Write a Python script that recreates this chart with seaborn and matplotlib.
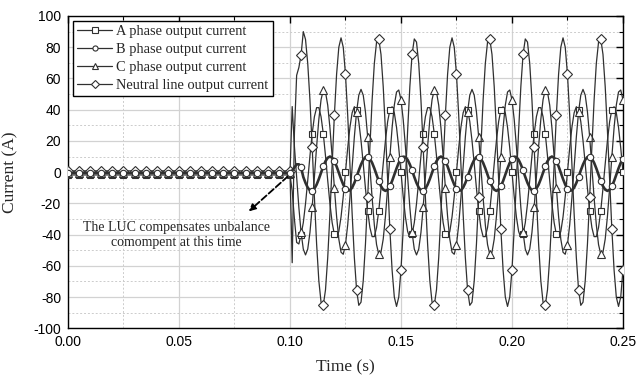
import numpy as np
import pandas as pd
import matplotlib
matplotlib.use("Agg")
import matplotlib.pyplot as plt
import seaborn as sns
from matplotlib.ticker import MultipleLocator, FormatStrFormatter

# === Data ===
# sample step is 1 ms, from 0.000 s to 0.250 s (251 samples)
time = np.round(np.arange(251) * 0.001, 3)

# level of each current before the LUC switches on (t <= 0.100 s)
a_pre = -1.8
b_pre = -0.5
c_pre = -0.5
n_pre = 0.8

# currents (A) from t = 0.101 s to t = 0.250 s
a_post = [
    -12, -30, -45, -46, -40, -32.4, -20.2, -5.3, 10.4, 24.7,
    35.5, 41.3, 41.3, 35.5, 24.7, 10.4, -5.3, -20.2, -32.4, -39.9,
    -41.9, -38.0, -28.7, -15.5, 0.0, 15.5, 28.7, 38.0, 41.9, 39.9,
    32.4, 20.2, 5.3, -10.4, -24.7, -35.5, -41.3, -41.3, -35.5, -24.7,
    -10.4, 5.3, 20.2, 32.4, 39.9, 41.9, 38.0, 28.7, 15.5, 0.0,
    -15.5, -28.7, -38.0, -41.9, -39.9, -32.4, -20.2, -5.3, 10.4, 24.7,
    35.5, 41.3, 41.3, 35.5, 24.7, 10.4, -5.3, -20.2, -32.4, -39.9,
    -41.9, -38.0, -28.7, -15.5, 0.0, 15.5, 28.7, 38.0, 41.9, 39.9,
    32.4, 20.2, 5.3, -10.4, -24.7, -35.5, -41.3, -41.3, -35.5, -24.7,
    -10.4, 5.3, 20.2, 32.4, 39.9, 41.9, 38.0, 28.7, 15.5, 0.0,
    -15.5, -28.7, -38.0, -41.9, -39.9, -32.4, -20.2, -5.3, 10.4, 24.7,
    35.5, 41.3, 41.3, 35.5, 24.7, 10.4, -5.3, -20.2, -32.4, -39.9,
    -41.9, -38.0, -28.7, -15.5, 0.0, 15.5, 28.7, 38.0, 41.9, 39.9,
    32.4, 20.2, 5.3, -10.4, -24.7, -35.5, -41.3, -41.3, -35.5, -24.7,
    -10.4, 5.3, 20.2, 32.4, 39.9, 41.9, 38.0, 28.7, 15.5, 0.0,
]
b_post = [
    1.0, 3.0, 5.0, 5.0, 3.0, -3.1, -6.9, -9.9, -11.7, -11.9,
    -10.6, -8.0, -4.4, -0.3, 3.7, 7.0, 9.2, 10.0, 9.2, 7.0,
    3.7, -0.3, -4.4, -8.0, -10.6, -11.9, -11.7, -9.9, -6.9, -3.1,
    1.1, 4.9, 7.9, 9.7, 9.9, 8.6, 6.0, 2.4, -1.7, -5.7,
    -9.0, -11.2, -12.0, -11.2, -9.0, -5.7, -1.7, 2.4, 6.0, 8.6,
    9.9, 9.7, 7.9, 4.9, 1.1, -3.1, -6.9, -9.9, -11.7, -11.9,
    -10.6, -8.0, -4.4, -0.3, 3.7, 7.0, 9.2, 10.0, 9.2, 7.0,
    3.7, -0.3, -4.4, -8.0, -10.6, -11.9, -11.7, -9.9, -6.9, -3.1,
    1.1, 4.9, 7.9, 9.7, 9.9, 8.6, 6.0, 2.4, -1.7, -5.7,
    -9.0, -11.2, -12.0, -11.2, -9.0, -5.7, -1.7, 2.4, 6.0, 8.6,
    9.9, 9.7, 7.9, 4.9, 1.1, -3.1, -6.9, -9.9, -11.7, -11.9,
    -10.6, -8.0, -4.4, -0.3, 3.7, 7.0, 9.2, 10.0, 9.2, 7.0,
    3.7, -0.3, -4.4, -8.0, -10.6, -11.9, -11.7, -9.9, -6.9, -3.1,
    1.1, 4.9, 7.9, 9.7, 9.9, 8.6, 6.0, 2.4, -1.7, -5.7,
    -9.0, -11.2, -12.0, -11.2, -9.0, -5.7, -1.7, 2.4, 6.0, 8.6,
]
c_post = [
    42, 16.4, -3.3, -22.6, -38.6, -49.3, -53.0, -49.3, -38.6, -22.6,
    -3.3, 16.4, 33.8, 46.4, 52.6, 51.3, 42.9, 28.4, 9.9, -9.9,
    -28.4, -42.9, -51.3, -52.6, -46.4, -33.8, -16.4, 3.3, 22.6, 38.6,
    49.3, 53.0, 49.3, 38.6, 22.6, 3.3, -16.4, -33.8, -46.4, -52.6,
    -51.3, -42.9, -28.4, -9.9, 9.9, 28.4, 42.9, 51.3, 52.6, 46.4,
    33.8, 16.4, -3.3, -22.6, -38.6, -49.3, -53.0, -49.3, -38.6, -22.6,
    -3.3, 16.4, 33.8, 46.4, 52.6, 51.3, 42.9, 28.4, 9.9, -9.9,
    -28.4, -42.9, -51.3, -52.6, -46.4, -33.8, -16.4, 3.3, 22.6, 38.6,
    49.3, 53.0, 49.3, 38.6, 22.6, 3.3, -16.4, -33.8, -46.4, -52.6,
    -51.3, -42.9, -28.4, -9.9, 9.9, 28.4, 42.9, 51.3, 52.6, 46.4,
    33.8, 16.4, -3.3, -22.6, -38.6, -49.3, -53.0, -49.3, -38.6, -22.6,
    -3.3, 16.4, 33.8, 46.4, 52.6, 51.3, 42.9, 28.4, 9.9, -9.9,
    -28.4, -42.9, -51.3, -52.6, -46.4, -33.8, -16.4, 3.3, 22.6, 38.6,
    49.3, 53.0, 49.3, 38.6, 22.6, 3.3, -16.4, -33.8, -46.4, -52.6,
    -51.3, -42.9, -28.4, -9.9, 9.9, 28.4, 42.9, 51.3, 52.6, 46.4,
]
n_post = [
    -58, 25, 62, 67, 75, 90, 85, 69.6, 46.1, 16.1,
    -16.1, -46.1, -69.6, -83.3, -85.3, -75.4, -54.8, -26.6, 5.4, 36.6,
    62.7, 80.0, 86.0, 80.0, 62.7, 36.6, 5.4, -26.6, -54.8, -75.4,
    -85.3, -83.3, -69.6, -46.1, -16.1, 16.1, 46.1, 69.6, 83.3, 85.3,
    75.4, 54.8, 26.6, -5.4, -36.6, -62.7, -80.0, -86.0, -80.0, -62.7,
    -36.6, -5.4, 26.6, 54.8, 75.4, 85.3, 83.3, 69.6, 46.1, 16.1,
    -16.1, -46.1, -69.6, -83.3, -85.3, -75.4, -54.8, -26.6, 5.4, 36.6,
    62.7, 80.0, 86.0, 80.0, 62.7, 36.6, 5.4, -26.6, -54.8, -75.4,
    -85.3, -83.3, -69.6, -46.1, -16.1, 16.1, 46.1, 69.6, 83.3, 85.3,
    75.4, 54.8, 26.6, -5.4, -36.6, -62.7, -80.0, -86.0, -80.0, -62.7,
    -36.6, -5.4, 26.6, 54.8, 75.4, 85.3, 83.3, 69.6, 46.1, 16.1,
    -16.1, -46.1, -69.6, -83.3, -85.3, -75.4, -54.8, -26.6, 5.4, 36.6,
    62.7, 80.0, 86.0, 80.0, 62.7, 36.6, 5.4, -26.6, -54.8, -75.4,
    -85.3, -83.3, -69.6, -46.1, -16.1, 16.1, 46.1, 69.6, 83.3, 85.3,
    75.4, 54.8, 26.6, -5.4, -36.6, -62.7, -80.0, -86.0, -80.0, -62.7,
]

labels = [
    "A phase output current",
    "B phase output current",
    "C phase output current",
    "Neutral line output current",
]

# === Build long table ===
n_pre_samples = len(time) - len(a_post)
frames = []
for label, pre, post in zip(labels, [a_pre, b_pre, c_pre, n_pre], [a_post, b_post, c_post, n_post]):
    values = np.r_[np.full(n_pre_samples, pre), post]
    frames.append(pd.DataFrame({"time": time, "current": values, "series": label}))
df = pd.concat(frames, ignore_index=True)

# === Style ===
sns.set_style("white")
plt.rcParams["font.family"] = ["Liberation Serif", "DejaVu Serif"]
plt.rcParams["axes.unicode_minus"] = False

fig = plt.figure(figsize=(6.36, 3.80), dpi=100)
ax = fig.add_axes([0.1069, 0.1361, 0.8726, 0.8218])

line_color = "#303030"
# marker, marker size, line width, zorder
looks = {
    labels[0]: ("s", 4.8, 0.9, 3),
    labels[1]: ("o", 4.6, 1.9, 5),
    labels[2]: ("^", 5.2, 0.9, 3),
    labels[3]: ("D", 4.6, 0.9, 4),
}

for label in labels:
    marker, ms, lw, z = looks[label]
    sns.lineplot(
        data=df[df["series"] == label], x="time", y="current", ax=ax,
        label=label, color=line_color, linewidth=lw, marker=marker,
        markersize=ms, markevery=5, markerfacecolor="white",
        markeredgecolor=line_color, markeredgewidth=0.8,
        zorder=z, sort=False, errorbar=None,
    )

# === Axes ===
ax.set_xlim(0, 0.25)
ax.set_ylim(-100, 100)
ax.xaxis.set_major_locator(MultipleLocator(0.05))
ax.xaxis.set_minor_locator(MultipleLocator(0.025))
ax.yaxis.set_major_locator(MultipleLocator(20))
ax.yaxis.set_minor_locator(MultipleLocator(10))
ax.xaxis.set_major_formatter(FormatStrFormatter("%.2f"))
ax.grid(which="major", color="#d2d2d2", linewidth=0.9, linestyle="-")
ax.grid(which="minor", color="#cccccc", linewidth=0.7, linestyle=(0, (2, 2)))
ax.set_axisbelow(True)
ax.tick_params(which="both", direction="in", top=True, right=True, colors="black",
               labelsize=10, labelfontfamily="Liberation Sans")
ax.tick_params(which="major", length=5, width=1.0, pad=5)
ax.tick_params(which="minor", length=3, width=0.8)
for sp in ax.spines.values():
    sp.set_color("black")
    sp.set_linewidth(1.0)

ax.set_xlabel("Time (s)", fontsize=12.5)
ax.set_ylabel("Current (A)", fontsize=12.5)
ax.xaxis.set_label_coords(0.5, -0.10)
ax.yaxis.set_label_coords(-0.09, 0.5)

# === Annotation ===
ax.annotate("", xy=(0.0805, -26.3), xytext=(0.1, -1.5),
            arrowprops=dict(arrowstyle="-|>", linestyle="--", linewidth=1.3,
                            color="black", mutation_scale=10))
ax.text(0.0489, -40.2, "The LUC compensates unbalance\ncomompent at this time",
        ha="center", va="center", fontsize=10, linespacing=1.2)

leg = ax.legend(loc="upper left", bbox_to_anchor=(0.009, 0.984), borderaxespad=0,
                frameon=True, fancybox=False, edgecolor="black", framealpha=1,
                fontsize=10.4, handlelength=2.4, handletextpad=0.3,
                labelspacing=0.32, borderpad=0.3, markerscale=0.8)
leg.get_frame().set_linewidth(1.0)
for h in leg.legend_handles:
    h.set_linewidth(0.9)

fig.savefig("out.png", dpi=100)
